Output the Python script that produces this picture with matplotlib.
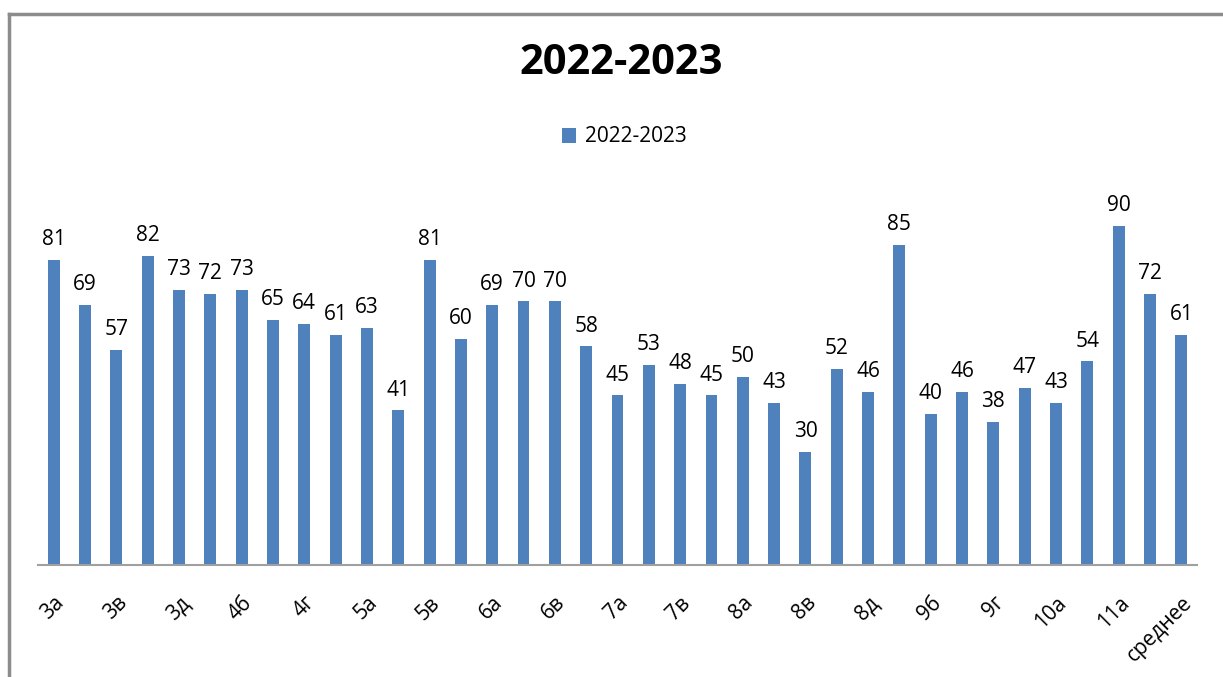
import matplotlib.pyplot as plt
import numpy as np

classes = ['3а', '3б', '3в', '3г', '3д', '4а', '4б', '4в', '4г', '4д',
           '5а', '5б', '5в', '5г', '6а', '6б', '6в', '6г', '7а', '7б',
           '7в', '7г', '8а', '8б', '8в', '8г', '8д', '9а', '9б', '9в',
           '9г', '9д', '10а', '10б', '11а', '11б', 'среднее']
values = [81, 69, 57, 82, 73, 72, 73, 65, 64, 61,
          63, 41, 81, 60, 69, 70, 70, 58, 45, 53,
          48, 45, 50, 43, 30, 52, 46, 85, 40, 46,
          38, 47, 43, 54, 90, 72, 61]
series_name = '2022-2023'

plt.rcParams['font.family'] = ['Open Sans', 'DejaVu Sans']

W, H = 1223, 677
fig = plt.figure(figsize=(W / 100, H / 100), dpi=100)
ax = fig.add_axes([38 / W, 1 - 564.5 / H, (1197 - 38) / W, (564.5 - 188.5) / H])

ind = np.arange(len(values))
bars = ax.bar(ind, values, 0.38, color='#4f81bd', label=series_name)

for x, v in zip(ind, values):
    ax.annotate(str(v), (x, v), xytext=(0, 7), textcoords='offset points',
                ha='center', va='bottom', fontsize=15)

ax.set_xlim(-0.5, len(values) - 0.5)
ax.set_ylim(0, 100)
ax.set_yticks([])
ax.set_xticks(ind[::2])
ax.set_xticklabels(classes[::2], rotation=45, ha='right',
                   rotation_mode='anchor', fontsize=15)
ax.tick_params(axis='x', length=0, pad=20)
for side in ['top', 'right', 'left']:
    ax.spines[side].set_visible(False)
ax.spines['bottom'].set_color('#a0a0a0')
ax.spines['bottom'].set_linewidth(1.5)

fig.text(621 / W, 1 - 64 / H, '2022-2023', ha='center', va='center',
         fontsize=30, fontweight='bold')
fig.legend(handles=[bars], labels=[series_name], loc='center',
           bbox_to_anchor=(624 / W, 1 - 137 / H), frameon=False,
           fontsize=15, handlelength=0.7, handleheight=0.7, handletextpad=0.4)

# outer frame (left and top edges visible)
fig.add_artist(plt.Line2D([9 / W, 9 / W], [0, 1 - 13.5 / H],
                          color='#8c8c8c', linewidth=2.5))
fig.add_artist(plt.Line2D([9 / W, 1], [1 - 13.5 / H, 1 - 13.5 / H],
                          color='#8c8c8c', linewidth=2.5))

fig.savefig('out.png', dpi=100)
